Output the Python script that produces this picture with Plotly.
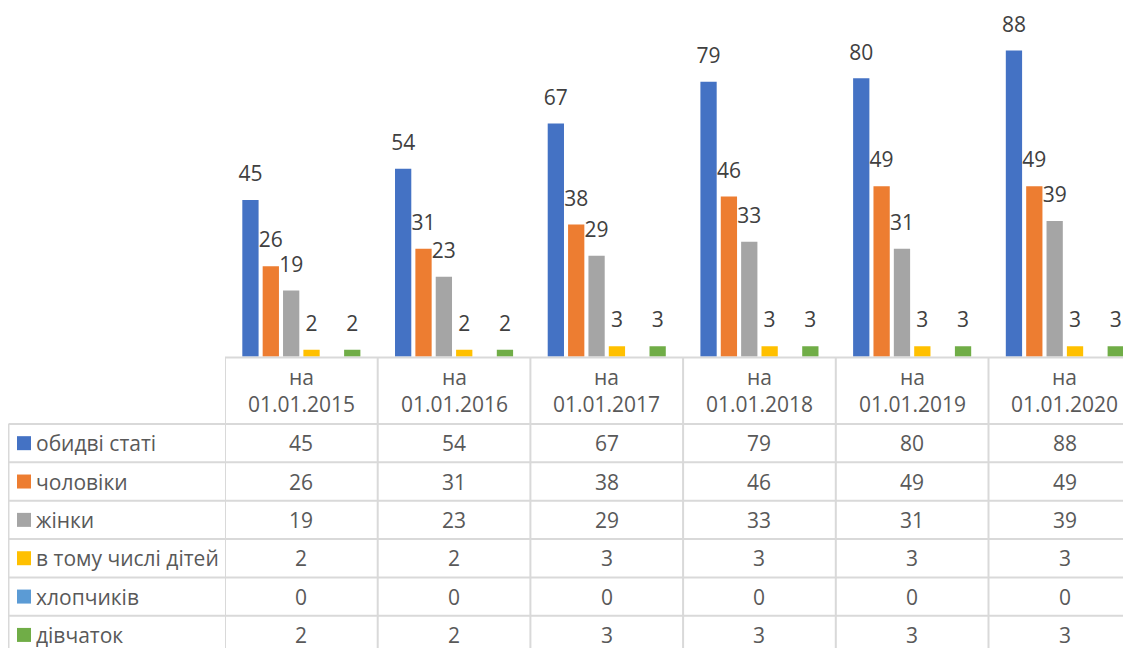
import plotly.graph_objects as go

W, H = 1131, 648
OFF = 8  # page body margin
FW, FH = W - OFF, H - OFF

categories = ["на 01.01.2015", "на 01.01.2016", "на 01.01.2017",
              "на 01.01.2018", "на 01.01.2019", "на 01.01.2020"]
series_names = ["обидві статі", "чоловіки", "жінки",
                "в тому числі дітей", "хлопчиків", "дівчаток"]
both_sexes = [45, 54, 67, 79, 80, 88]
men = [26, 31, 38, 46, 49, 49]
women = [19, 23, 29, 33, 31, 39]
children = [2, 2, 3, 3, 3, 3]
boys = [0, 0, 0, 0, 0, 0]
girls = [2, 2, 3, 3, 3, 3]
colors = ["#4472C4", "#ED7D31", "#A5A5A5", "#FFC000", "#5B9BD5", "#70AD47"]
series_values = [both_sexes, men, women, children, boys, girls]
show_labels = [True, True, True, True, False, True]

FONT = "Open Sans"
TXT = "#595959"
LBL = "#404040"
GRID = "#D9D9D9"


def py(p):
    return 1 - (p - OFF) / FH


def px(p):
    return (p - OFF) / FW


fig = go.Figure()
for name, vals, col in zip(series_names, series_values, colors):
    fig.add_trace(go.Bar(
        x=categories, y=vals, name=name,
        marker=dict(color=col, line=dict(width=0)),
        hoverinfo="x+y+name",
    ))

# data labels: grouped scatter traces so they sit centred over their bars
for name, vals, lab in zip(series_names, series_values, show_labels):
    fig.add_trace(go.Scatter(
        x=categories, y=vals, name=name + " (label)",
        mode="markers+text",
        marker=dict(size=20, color="rgba(0,0,0,0)"),
        text=[str(v) for v in vals] if lab else ["" for _ in vals],
        textposition="top center",
        textfont=dict(family=FONT, size=21, color=LBL),
        cliponaxis=False, hoverinfo="skip",
    ))

shapes = []
annotations = []

header_top = 357.5
header_bot = 424.0
row_h = 38.35
table_left = 8.5

shapes.append(dict(type="line", xref="x", yref="paper", x0=-0.5, x1=6.5,
                   y0=py(header_top), y1=py(header_top), line=dict(color=GRID, width=2)))
for r in range(len(series_names) + 1):
    yy = header_bot + r * row_h
    shapes.append(dict(type="line", xref="paper", yref="paper", x0=px(table_left), x1=1.02,
                       y0=py(yy), y1=py(yy), line=dict(color=GRID, width=2)))
shapes.append(dict(type="line", xref="paper", yref="paper", x0=px(table_left), x1=px(table_left),
                   y0=py(header_bot), y1=py(H + 10), line=dict(color=GRID, width=2)))
for i in range(len(categories) + 1):
    shapes.append(dict(type="line", xref="x", yref="paper", x0=i - 0.5, x1=i - 0.5,
                       y0=py(header_top), y1=py(H + 10), line=dict(color=GRID, width=2)))

for c in categories:
    word, date = c.split(" ", 1)
    annotations.append(dict(xref="x", yref="paper", x=c, y=py((header_top + header_bot) / 2),
                            text=word + "<br>" + date, showarrow=False,
                            font=dict(family=FONT, size=21, color=TXT),
                            xanchor="center", yanchor="middle", align="center"))

for r, (name, vals, col) in enumerate(zip(series_names, series_values, colors)):
    yc = header_bot + (r + 0.5) * row_h
    shapes.append(dict(type="rect", xref="paper", yref="paper",
                       x0=px(17), x1=px(31), y0=py(yc - 7), y1=py(yc + 7),
                       fillcolor=col, line=dict(width=0)))
    annotations.append(dict(xref="paper", yref="paper", x=px(34), y=py(yc),
                            text=name, showarrow=False,
                            font=dict(family=FONT, size=21, color=TXT),
                            xanchor="left", yanchor="middle"))
    for c, v in zip(categories, vals):
        annotations.append(dict(xref="x", yref="paper", x=c, y=py(yc),
                                text=str(v), showarrow=False,
                                font=dict(family=FONT, size=21, color=TXT),
                                xanchor="center", yanchor="middle"))

fig.update_layout(
    width=FW, height=FH,
    margin=dict(l=0, r=0, t=0, b=0),
    paper_bgcolor="white", plot_bgcolor="white",
    barmode="group", bargap=0.2, bargroupgap=0.2,
    scattermode="group", scattergap=0.2,
    showlegend=False,
    xaxis=dict(domain=[px(225), 1], range=[-0.5, -0.5 + (W - 225) / 152.7],
               showticklabels=False, showgrid=False, zeroline=False, showline=False, ticks=""),
    yaxis=dict(domain=[py(356.7), py(8.7)], range=[0, 100], visible=False),
    shapes=shapes, annotations=annotations,
    font=dict(family=FONT),
)

fig.write_html("out.html")
